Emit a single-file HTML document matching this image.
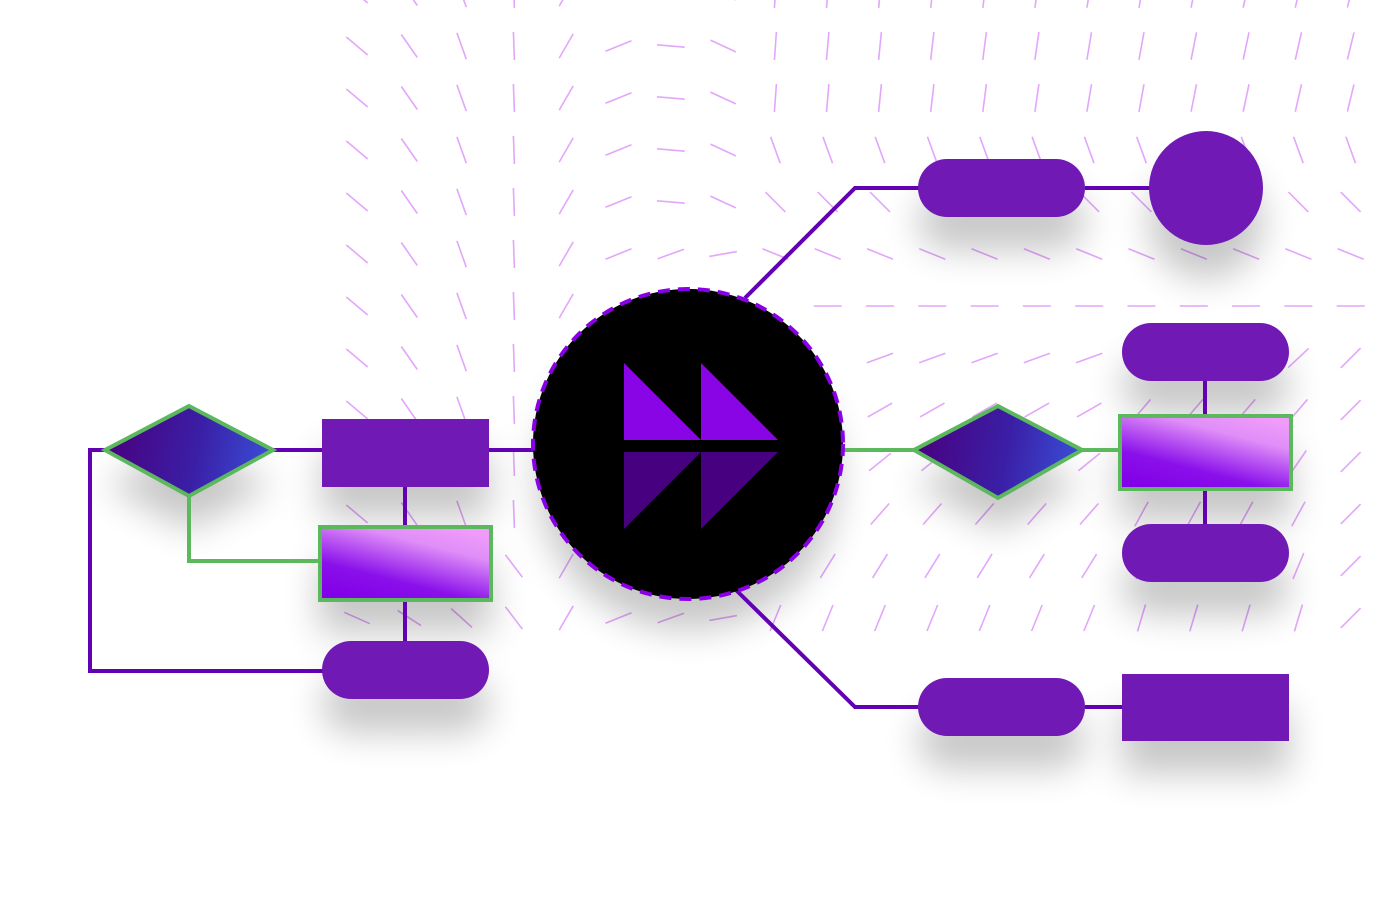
<!DOCTYPE html>
<html><head><meta charset="utf-8"><style>
html,body{margin:0;padding:0;background:#fff;width:1380px;height:900px;overflow:hidden}
svg{display:block}
</style></head><body>
<svg id="s" width="1380" height="900" viewBox="0 0 1380 900" xmlns="http://www.w3.org/2000/svg">
<defs>
<linearGradient id="dia" x1="0" y1="0.45" x2="1" y2="0.55">
<stop offset="0" stop-color="#4a007f"/><stop offset="0.55" stop-color="#3a1fa6"/><stop offset="1" stop-color="#3a4fd8"/></linearGradient>
<linearGradient id="box" x1="0.2" y1="1" x2="0.8" y2="0">
<stop offset="0" stop-color="#8200e8"/><stop offset="0.3" stop-color="#8a10ea"/><stop offset="0.75" stop-color="#e08ef8"/><stop offset="1" stop-color="#f09cfc"/></linearGradient>
<filter id="sh" x="-50%" y="-50%" width="200%" height="250%"><feGaussianBlur stdDeviation="18"/></filter>
</defs>
<g id="dash" stroke="#e3a6fb" stroke-width="1.6" fill="none"></g>
<g fill="#000" opacity="0.22" filter="url(#sh)">
<polygon points="189,440 273,485 189,530 105,485"/>
<rect x="322" y="450" width="167" height="68"/>
<rect x="319" y="560" width="172" height="73"/>
<rect x="322" y="675" width="167" height="58" rx="29"/>
<circle cx="688" cy="480" r="150"/>
<rect x="918" y="192" width="167" height="58" rx="29"/>
<circle cx="1206" cy="222" r="57"/>
<polygon points="998,440 1082,485 998,530 914,485"/>
<rect x="1122" y="356" width="167" height="58" rx="29"/>
<rect x="1119" y="448" width="172" height="74"/>
<rect x="1122" y="557" width="167" height="58" rx="29"/>
<rect x="918" y="711" width="167" height="58" rx="29"/>
<rect x="1122" y="707" width="167" height="67"/>
</g>
<g stroke="#6200b3" stroke-width="4" fill="none">
<polyline points="105,450 90,450 90,671 330,671"/>
<line x1="273" y1="450" x2="322" y2="450"/>
<line x1="489" y1="450" x2="535" y2="450"/>
<line x1="405" y1="487" x2="405" y2="527"/>
<line x1="405" y1="600" x2="405" y2="641"/>
<polyline points="745,298 855,188 930,188"/>
<line x1="1085" y1="188" x2="1150" y2="188"/>
<polyline points="736,590 855,707 930,707"/>
<line x1="1085" y1="707" x2="1122" y2="707"/>
<line x1="1205" y1="381" x2="1205" y2="415"/>
<line x1="1205" y1="489" x2="1205" y2="524"/>
</g>
<g stroke="#5cb85c" stroke-width="4" fill="none">
<polyline points="189,496 189,561 319,561"/>
<line x1="840" y1="450" x2="914" y2="450"/>
<line x1="1082" y1="450" x2="1119" y2="450"/>
</g>
<polygon points="189,406 273,450 189,496 105,450" fill="url(#dia)" stroke="#5cb85c" stroke-width="4"/>
<rect x="322" y="419" width="167" height="68" fill="#7019b4"/>
<rect x="320" y="527" width="171" height="73" fill="url(#box)" stroke="#5cb85c" stroke-width="4"/>
<rect x="322" y="641" width="167" height="58" rx="29" fill="#7019b4"/>
<circle cx="688" cy="444" r="155" fill="#000" stroke="#8a00e6" stroke-width="4" stroke-dasharray="12 8"/>
<polygon points="624,363 624,440 701,440" fill="#8a05e6"/>
<polygon points="701,363 701,440 778,440" fill="#8a05e6"/>
<polygon points="624,452 701,452 624,529" fill="#470080"/>
<polygon points="701,452 778,452 701,529" fill="#470080"/>
<rect x="918" y="159" width="167" height="58" rx="29" fill="#7019b4"/>
<circle cx="1206" cy="188" r="57" fill="#7019b4"/>
<polygon points="998,406 1082,450 998,498 914,450" fill="url(#dia)" stroke="#5cb85c" stroke-width="4"/>
<rect x="1122" y="323" width="167" height="58" rx="29" fill="#7019b4"/>
<rect x="1120" y="416" width="171" height="73" fill="url(#box)" stroke="#5cb85c" stroke-width="4"/>
<rect x="1122" y="524" width="167" height="58" rx="29" fill="#7019b4"/>
<rect x="918" y="678" width="167" height="58" rx="29" fill="#7019b4"/>
<rect x="1122" y="674" width="167" height="67" fill="#7019b4"/>
</svg>
<script>
(function(){
var g=document.getElementById('dash'),out='';
function ang(x,y){
 var a;
 if(x<540){ a = 40 + (x-357)/156*45; if(x>500) a=88; if(y>560) a=a*0.6; }
 else if(x<600){ a=-60; }
 else if(x<650){ a=-22; }
 else if(x<700){ a=(y<250)?5:-20; }
 else if(x<750){ a=(y<250)?25:-10; }
 else {
  if(y<120) a=-86+ (x-774)/600*10;
  else if(y<180) a=70;
  else if(y<230) a=45;
  else if(y<280) a=22;
  else if(y<330) a=0;
  else { var t=(y-330)/300; a=-(15+t*55); if(x>1100) a=-(40+t*35); }
  if(y>=330 && x>1320) a=-45;
 }
 return a*Math.PI/180;
}
for(var r=0;r<13;r++){
 var y=-6+r*52;
 for(var c=0;c<20;c++){
  var x=357+c*52.3;
  var dx=x-688,dy=y-444; if(dx*dx+dy*dy<165*165) continue;
  var a=ang(x,y),L=14;
  var ca=Math.cos(a)*L, sa=Math.sin(a)*L;
  if(a<0){ca=Math.abs(ca);}
  out+='<line x1="'+(x-ca).toFixed(1)+'" y1="'+(y-sa).toFixed(1)+'" x2="'+(x+ca).toFixed(1)+'" y2="'+(y+sa).toFixed(1)+'"/>';
 }
}
g.innerHTML=out;
})();
</script>
</body></html>
